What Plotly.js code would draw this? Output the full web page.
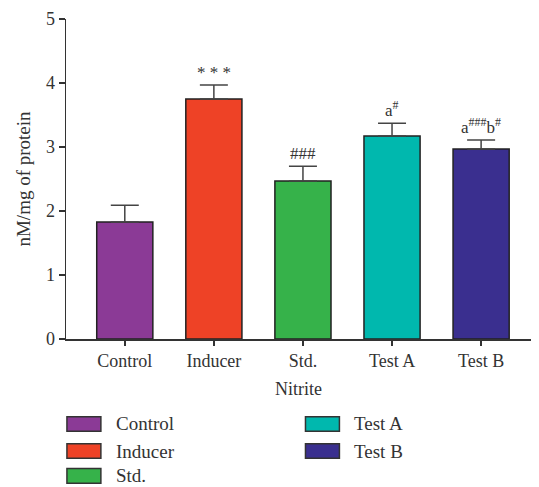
<!DOCTYPE html>
<html><head><meta charset="utf-8">
<script src="https://cdn.plot.ly/plotly-3.0.1.min.js"></script>
<style>body{margin:0;background:#fff}#c{width:539px;height:487px}</style>
</head><body><div id="c"></div>
<script>
const categories = ["Control", "Inducer", "Std.", "Test A", "Test B"];
const values = [1.83, 3.75, 2.47, 3.17, 2.97];
const errors = [0.26, 0.22, 0.23, 0.20, 0.14];
const marks = ["", "* * *", "###", "a<sup>#</sup>", "a<sup>###</sup>b<sup>#</sup>"];
const colors = ["#8B3A96", "#EE4226", "#36B24A", "#00B8AE", "#3A2F8F"];
const tickVals = [0, 1, 2, 3, 4, 5];

const font = "Liberation Serif, Times New Roman, serif";
const trace = {
  type: "bar", x: categories, y: values, width: 0.63,
  marker: {color: colors, line: {color: "#222", width: 1.5}},
  error_y: {type: "data", symmetric: false, array: errors, arrayminus: errors.map(() => 0),
    visible: true, color: "#444", thickness: 1.5, width: 14},
  showlegend: false, hoverinfo: "skip"
};
const annotations = [];
categories.forEach((c, i) => {
  if (!marks[i]) return;
  annotations.push({
    x: c, y: values[i] + errors[i], xref: "x", yref: "y", text: marks[i],
    showarrow: false, yanchor: "bottom", yshift: 1, font: {family: font, size: 17, color: "#333"}
  });
});
const shapes = [];
const legendPos = [[0, -0.2656], [0, -0.35], [0, -0.428], [0.513, -0.2656], [0.513, -0.35]];
categories.forEach((c, i) => {
  const [px, py] = legendPos[i];
  shapes.push({type: "rect", xref: "paper", yref: "paper", x0: px + 0.002, x1: px + 0.075,
    y0: py - 0.023, y1: py + 0.023, fillcolor: colors[i], line: {color: "#333", width: 1.5}});
  annotations.push({xref: "paper", yref: "paper", x: px + 0.103, y: py, text: c, showarrow: false,
    xanchor: "left", yanchor: "middle", font: {family: font, size: 19, color: "#333"}});
});
const layout = {
  width: 539, height: 487, margin: {l: 66, r: 8, t: 19, b: 148},
  paper_bgcolor: "#fff", plot_bgcolor: "#fff",
  font: {family: font, size: 18, color: "#333"},
  xaxis: {range: [-0.66, 4.56], showline: true, linecolor: "#333", linewidth: 1.5, ticks: "outside",
    ticklen: 5, tickcolor: "#333", tickwidth: 1.5, showgrid: false, zeroline: false,
    tickfont: {family: font, size: 18, color: "#333"},
    title: {text: "Nitrite", font: {family: font, size: 18, color: "#333"}, standoff: 12}},
  yaxis: {range: [0, 5], tickvals: tickVals, showline: true, linecolor: "#333", linewidth: 1.5,
    ticks: "outside", ticklen: 6, tickcolor: "#333", tickwidth: 1.5, showgrid: false, zeroline: false,
    tickfont: {family: font, size: 18, color: "#333"},
    title: {text: "nM/mg of protein", font: {family: font, size: 19, color: "#333"}, standoff: 10}},
  annotations: annotations, shapes: shapes
};
Plotly.newPlot("c", [trace], layout, {displayModeBar: false, staticPlot: true});
</script></body></html>
